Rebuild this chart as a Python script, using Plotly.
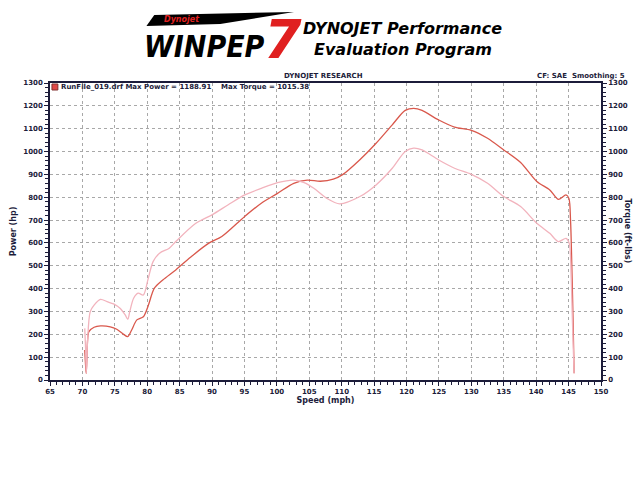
import plotly.graph_objects as go

# ---- data ----
speed_power = [70.36, 70.5, 70.6, 70.8, 71.0, 71.8, 72.8, 74.3, 75.3, 76.3, 77.0, 77.6, 78.4, 79.4,
               80.1, 81.1, 82.4, 84.4, 87.0, 89.5, 91.5, 95.0, 97.6, 100.1, 102.6, 104.7, 106.7,
               108.7, 110.2, 112.8, 115.3, 117.8, 119.8, 121.1, 122.4, 124.9, 127.4, 130.0, 132.5,
               135.0, 137.6, 140.1, 142.1, 143.4, 144.6, 145.05, 145.3, 145.5, 145.7, 145.85]
power_hp = [131, 60, 29, 175, 212, 231, 237, 233, 222, 201, 190, 219, 263, 277,
            321, 402, 438, 482, 545, 599, 628, 715, 774, 817, 861, 875, 870,
            879, 900, 964, 1036, 1117, 1180, 1189, 1180, 1139, 1107, 1093, 1058,
            1007, 952, 869, 832, 791, 810, 795, 700, 500, 250, 30]

speed_torque = [70.36, 70.5, 70.6, 70.8, 71.2, 71.8, 72.8, 73.8, 74.8, 75.8, 76.6, 77.0, 77.3, 77.9,
                78.6, 79.4, 80.1, 80.9, 81.9, 83.4, 84.4, 87.5, 90.0, 92.5, 95.05, 97.6, 100.1,
                102.6, 104.2, 105.7, 107.7, 109.7, 112.8, 115.3, 117.8, 119.8, 121.1, 122.4, 124.9,
                127.4, 130.0, 132.5, 135.0, 137.6, 140.1, 142.1, 143.4, 144.6, 145.1, 145.4, 145.6, 145.85]
torque_ftlb = [226, 131, 30, 175, 299, 328, 353, 343, 333, 314, 285, 266, 299, 358,
               380, 372, 438, 518, 555, 577, 606, 686, 723, 767, 810, 839, 864,
               875, 864, 839, 795, 771, 803, 854, 927, 1000, 1015, 1007, 964,
               927, 900, 861, 803, 759, 686, 642, 606, 620, 598, 450, 250, 30]

x_ticks = list(range(65, 151, 5))
y_ticks = list(range(0, 1301, 100))

navy = "#1c1c3a"
tfont = dict(family="DejaVu Sans", size=7, color=navy, weight="bold")

fig = go.Figure()
fig.add_trace(go.Scatter(x=speed_torque, y=torque_ftlb, mode="lines",
                         line=dict(color="#f2b3bd", width=1.3, shape="spline", smoothing=0.8),
                         yaxis="y2", showlegend=False, hoverinfo="skip"))
fig.add_trace(go.Scatter(x=speed_power, y=power_hp, mode="lines",
                         line=dict(color="#d9584c", width=1.3, shape="spline", smoothing=0.8),
                         showlegend=False, hoverinfo="skip"))

axis_common = dict(showline=True, linecolor=navy, linewidth=1.5, ticks="outside", ticklen=4,
                   tickcolor=navy, tickwidth=1, tickfont=tfont, zeroline=False)

fig.update_layout(
    width=640, height=480, paper_bgcolor="white", plot_bgcolor="white",
    margin=dict(l=42, r=38, t=83, b=100),
    xaxis=dict(range=[65, 150], tickvals=x_ticks, showgrid=True, gridcolor="#a8a8a8",
               griddash="dot", gridwidth=1, mirror=True,
               minor=dict(dtick=1, ticks="outside", ticklen=3, tickcolor=navy, showgrid=False),
               title=dict(text="Speed (mph)", font=dict(family="DejaVu Sans", size=8, color=navy, weight="bold"), standoff=2),
               **axis_common),
    yaxis=dict(range=[0, 1300], tickvals=y_ticks, showgrid=True, gridcolor="#a8a8a8",
               griddash="dot", gridwidth=1,
               minor=dict(dtick=20, ticks="outside", ticklen=3, tickcolor=navy, showgrid=False),
               title=dict(text="Power (hp)", font=dict(family="DejaVu Sans", size=8, color=navy, weight="bold"), standoff=6),
               **axis_common),
    yaxis2=dict(range=[0, 1300], tickvals=y_ticks, overlaying="y", side="right", showgrid=False,
                minor=dict(dtick=20, ticks="outside", ticklen=3, tickcolor=navy),
                **axis_common),
)


def px_to_paper(xp, yp):
    return (xp - 42) / 560, (380 - yp) / 297


def note(text, xp, yp, font, xanchor="center", yanchor="middle", **kw):
    x, y = px_to_paper(xp, yp)
    fig.add_annotation(text=text, x=x, y=y, xref="paper", yref="paper", showarrow=False,
                       xanchor=xanchor, yanchor=yanchor, font=font, **kw)


bold8 = dict(family="DejaVu Sans", size=8, color=navy, weight="bold")
bold7 = dict(family="DejaVu Sans", size=7, color=navy, weight="bold")

# right axis title (reads top to bottom)
note("Torque (ft-lbs)", 629, 231, bold8, textangle=90)

note("DYNOJET RESEARCH", 320, 76, bold7)
note("CF: SAE  Smoothing: 5", 628, 76, bold7, xanchor="right")
note("RunFile_019.drf Max Power = 1188.91    Max Torque = 1015.38", 51, 87, bold7, xanchor="left")

# legend icon
x0, y0 = px_to_paper(44, 84)
x1, y1 = px_to_paper(50, 90)
fig.add_shape(type="rect", x0=x0, y0=y0, x1=x1, y1=y1, xref="paper", yref="paper",
              fillcolor="#e04848", line=dict(color="#803030", width=1))

# ---- logo / header ----
# swoosh under "Dynojet"
fig.add_shape(type="path", xref="paper", yref="paper",
              path="M {0},{1} L {2},{3} L {4},{5} L {6},{7} Z".format(
                  *px_to_paper(140, 26), *px_to_paper(148, 15), *px_to_paper(290, 12), *px_to_paper(215, 24)),
              fillcolor="black", line=dict(width=0))
note("<i>Dynojet</i>", 176, 19, dict(family="DejaVu Sans", size=8, color="#e02020", weight="bold"))
note("<i>WINPEP</i>", 136, 46, dict(family="DejaVu Sans Condensed, DejaVu Sans", size=30,
                                      color="black", weight="bold"), xanchor="left")
note("<i>7</i>", 279, 39, dict(family="DejaVu Sans", size=54, color="#e02020", weight="bold"))
note("<i>DYNOJET Performance</i>", 400, 28, dict(family="DejaVu Sans", size=16, color="black", weight="bold"))
note("<i>Evaluation Program</i>", 401, 50, dict(family="DejaVu Sans", size=16, color="black", weight="bold"))

fig.write_html("out.html")
